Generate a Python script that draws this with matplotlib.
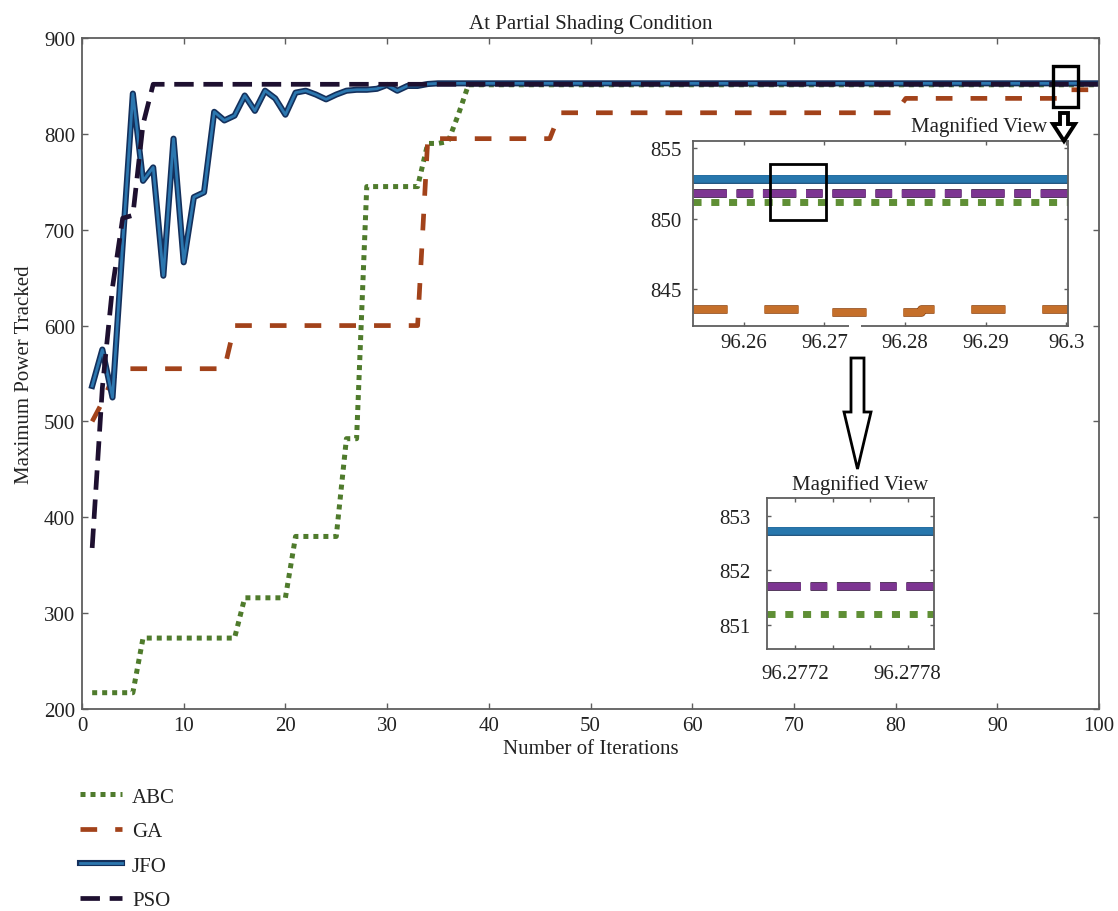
import matplotlib
matplotlib.use('Agg')
import matplotlib.pyplot as plt
import matplotlib.patheffects as pe
from matplotlib.patches import Rectangle, Polygon

plt.rcParams['font.family'] = ['Liberation Serif', 'DejaVu Serif']
plt.rcParams['font.size'] = 15
plt.rcParams['lines.scale_dashes'] = False

W, H = 1118, 912

# tracked power per iteration (vertices of each trace)
abc_it = [1, 5, 6, 15, 16, 20, 21, 25, 26, 27, 28, 33, 34, 35, 36, 37, 38, 100]
abc_pw = [217, 217, 274, 274, 316, 316, 380, 380, 482, 482, 745, 745, 790, 790, 792, 820, 851.2, 851.2]

ga_it = [1, 2, 3, 4, 14, 15, 33, 34, 46, 47, 80, 81, 96, 97, 100]
ga_pw = [500, 520, 545, 555, 555, 600, 600, 795, 795, 822, 822, 837, 837, 846, 846]

jfo_it = list(range(1, 36)) + [100]
jfo_pw = [537, 575, 525, 685, 842, 751, 765, 652, 795, 666, 734, 739, 823, 814, 819,
          840, 824, 845, 837, 820, 843, 845, 841, 836, 841, 845, 846, 846, 847, 851,
          845, 850, 850, 852, 852.7, 852.7]

pso_it = [1, 2, 3, 4, 5, 6, 7, 100]
pso_pw = [368, 535, 640, 712, 715, 810, 851.7, 851.7]

# first magnified view
z1_x = [96.2537, 96.3002]
z1_jfo = [852.8, 852.8]
z1_pso = [851.8, 851.8]
z1_abc = [851.2, 851.2]
z1_ga_x = [96.2537, 96.2701, 96.2701, 96.2820, 96.2820, 96.3002]
z1_ga = [843.6, 843.6, 843.4, 843.4, 843.6, 843.6]

# second magnified view
z2_x = [96.27705, 96.27794]
z2_jfo = [852.71, 852.71]
z2_pso = [851.71, 851.71]
z2_abc = [851.2, 851.2]

GREEN = '#4f7b2c'
BROWN = '#a2421a'
NAVY = '#14305c'
BLUE = '#2c77af'
PSO_C = '#1e1030'
SPINE = '#5e5e5e'
TXT = '#222222'


def px_to_fig(pts):
    return [(x / W, 1 - y / H) for x, y in pts]


def hollow_arrow(pts, lw):
    fig.add_artist(Polygon(px_to_fig(pts), closed=True, facecolor='white',
                           edgecolor='black', lw=lw, joinstyle='miter',
                           transform=fig.transFigure, zorder=6))


def style_axes(a, length=4):
    for s in a.spines.values():
        s.set_color(SPINE)
        s.set_linewidth(1.3)
    a.tick_params(direction='in', top=True, right=True, length=length, width=1,
                  color=SPINE, labelcolor=TXT)


fig = plt.figure(figsize=(W / 100, H / 100), dpi=100)
ax = fig.add_axes([82 / W, 1 - 710 / H, (1099 - 82) / W, (710 - 39) / H])

ax.plot(abc_it, abc_pw, color=GREEN, lw=3.6, dashes=(3.6, 3.6), label='ABC')
ax.plot(ga_it, ga_pw, color=BROWN, lw=3.4, dashes=(12, 13), label='GA')
ax.plot(jfo_it, jfo_pw, color=BLUE, lw=2.0, label='JFO',
        path_effects=[pe.Stroke(linewidth=4.4, foreground=NAVY), pe.Normal()])
ax.plot(pso_it, pso_pw, color=PSO_C, lw=3.4, dashes=(14, 7), label='PSO')

ax.set_xlim(0, 100)
ax.set_ylim(200, 900)
ax.set_xticks(range(0, 101, 10))
ax.set_yticks(range(200, 901, 100))
style_axes(ax)
ax.tick_params(pad=5)
ax.set_title('At Partial Shading Condition', fontsize=15, color=TXT, pad=7)
ax.set_xlabel('Number of Iterations', color=TXT, labelpad=3)
ax.set_ylabel('Maximum Power Tracked', color=TXT, labelpad=7)

# region that gets magnified
ax.add_patch(Rectangle((95.5, 828), 2.4, 43, fill=False, lw=2.4,
                       edgecolor='black', zorder=5, clip_on=False))

fig.legend(loc='upper left', bbox_to_anchor=(80 / W, 1 - 788 / H), frameon=False,
           borderpad=0, borderaxespad=0, handlelength=2.0, handletextpad=0.5,
           labelspacing=0.72, fontsize=15, labelcolor=TXT)

# magnified view 1
ins1 = fig.add_axes([693 / W, 1 - 327 / H, (1068 - 693) / W, (327 - 142) / H])
ins1.plot(z1_x, z1_jfo, color='#2777ad', lw=5.4, solid_capstyle='round',
          path_effects=[pe.Stroke(linewidth=6.4, foreground='#1b4f7a'), pe.Normal()])
ins1.plot(z1_x, z1_pso, color='#7d3592', lw=5.2, dashes=(24, 7, 12, 7),
          path_effects=[pe.Stroke(linewidth=6.2, foreground='#2a0f33'), pe.Normal()])
ins1.plot(z1_x, z1_abc, color='#5f8f35', lw=5.0, dashes=(5.8, 7))
ins1.plot(z1_ga_x, z1_ga, color='#c56f2a', lw=5.2, dashes=(24.5, 26.6),
          path_effects=[pe.Stroke(linewidth=6.2, foreground='#8a4413'), pe.Normal()])
ins1.set_xlim(z1_x)
ins1.set_ylim(842.4, 855.5)
ins1.set_xticks([96.26, 96.27, 96.28, 96.29, 96.3])
ins1.set_xticklabels(['96.26', '96.27', '96.28', '96.29', '96.3'])
ins1.set_yticks([845, 850, 855])
style_axes(ins1, length=3)
ins1.tick_params(axis='y', pad=8)
ins1.tick_params(axis='x', pad=5)
ins1.add_patch(Rectangle((96.2633, 849.9), 0.0069, 4.0, fill=False, lw=2.0,
                         edgecolor='black', zorder=5))
fig.text(1047 / W, 1 - 127 / H, 'Magnified View', ha='right', va='center',
         color=TXT, fontsize=15)

# magnified view 2
ins2 = fig.add_axes([767 / W, 1 - 650 / H, (934 - 767) / W, (650 - 499) / H])
ins2.plot(z2_x, z2_jfo, color='#2777ad', lw=5.4, solid_capstyle='round',
          path_effects=[pe.Stroke(linewidth=6.4, foreground='#1b4f7a'), pe.Normal()])
ins2.plot(z2_x, z2_pso, color='#7d3592', lw=5.2, dashes=(24, 7, 12, 7),
          path_effects=[pe.Stroke(linewidth=6.2, foreground='#2a0f33'), pe.Normal()])
ins2.plot(z2_x, z2_abc, color='#5f8f35', lw=5.0, dashes=(5.8, 7))
ins2.set_xlim(z2_x)
ins2.set_ylim(850.56, 853.32)
ins2.set_xticks([96.2772, 96.2774, 96.2776, 96.2778])
ins2.set_xticklabels(['96.2772', '', '', '96.2778'])
ins2.set_yticks([851, 852, 853])
style_axes(ins2, length=3)
ins2.tick_params(axis='y', pad=12)
ins2.tick_params(axis='x', pad=11)
fig.text(860 / W, 1 - 485 / H, 'Magnified View', ha='center', va='center',
         color=TXT, fontsize=15)

# arrows pointing at the magnified views
hollow_arrow([(1060, 114), (1068, 114), (1068, 125), (1075, 125), (1064, 142),
              (1053, 125), (1060, 125)], lw=2.8)
hollow_arrow([(851, 359), (864, 359), (864, 413), (871, 413), (857.5, 470),
              (844, 413), (851, 413)], lw=2.0)
# break in the first view's frame where the arrow leaves it
fig.add_artist(Rectangle((849 / W, 1 - 331 / H), 12 / W, 8 / H, facecolor='white',
                         edgecolor='none', transform=fig.transFigure, zorder=7))

fig.savefig('out.png', dpi=100)
